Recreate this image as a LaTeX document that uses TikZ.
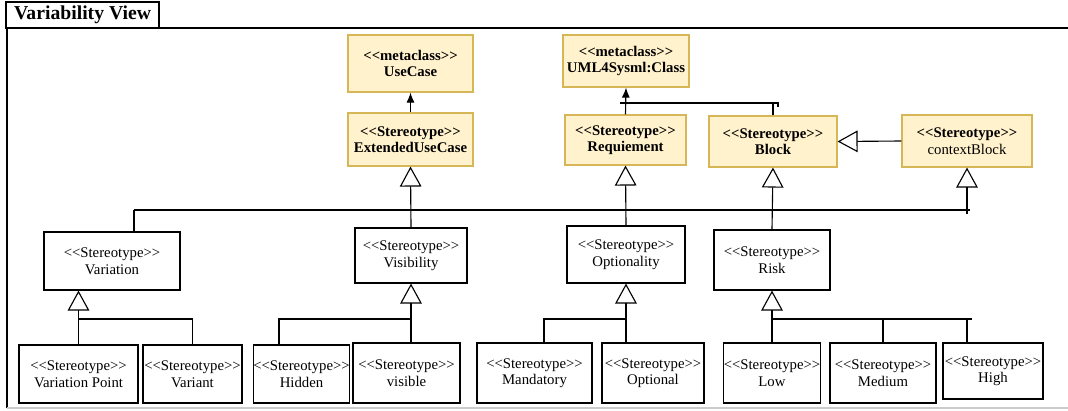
\documentclass[tikz,border=0pt]{standalone}
\usepackage{fontspec}
\setmainfont{Liberation Serif}[Ligatures=TeXOff]
\usetikzlibrary{arrows.meta}
\definecolor{metafill}{RGB}{255,242,204}
\definecolor{metaline}{RGB}{214,182,86}
\tikzset{
    >=Stealth,
    every node/.style={inner sep=0pt}
}

\begin{document}
\begin{tikzpicture}[
  x=0.025cm, y=-0.025cm,
  stereo/.style={rectangle, draw, line width=0.8pt, align=center, font=\fontsize{10.5}{11.8}\selectfont},
  meta/.style={stereo, fill=metafill, draw=metaline, font=\bfseries\fontsize{10.5}{11.8}\selectfont},
  inherit/.style={-{Triangle[open, length=0.5cm, width=0.54cm]}, line width=0.8pt},
  assoc/.style={-{Latex[length=0.25cm, width=0.2cm]}, line width=0.8pt},
  link/.style={line width=0.8pt}
]
  \useasboundingbox (0,0) rectangle (1068,410);

  % Frame and title tab
  \draw[line width=0.8pt] (1068,28) -- (7,28) -- (7,408);
  \draw[gray!40, line width=0.8pt] (7,408) -- (1068,408);
  \node[draw, line width=0.8pt, minimum width=3.825cm, minimum height=0.65cm,
        font=\bfseries\fontsize{14}{15}\selectfont] (title) at (82.5,15) {Variability View};

  % Metaclasses and base stereotypes
  \node[meta, minimum width=3.125cm, minimum height=1.425cm] (usecase)  at (410.5,63.5) {<<metaclass>>\\UseCase};
  \node[meta, minimum width=3.15cm,  minimum height=1.3cm]   (umlclass) at (626,61)     {<<metaclass>>\\UML4Sysml:Class};
  \node[meta, minimum width=3.125cm, minimum height=1.325cm] (extuc)    at (410.5,139.5) {<<Stereotype>>\\ExtendedUseCase};
  \node[meta, minimum width=3.025cm, minimum height=1.25cm]  (req)      at (625.5,140)  {<<Stereotype>>\\Requiement};
  \node[meta, minimum width=3.2cm,   minimum height=1.275cm] (block)    at (773,141.5)  {<<Stereotype>>\\Block};
  \node[meta, minimum width=3.25cm,  minimum height=1.3cm, font=\fontsize{10.5}{11.8}\selectfont] (ctxblock) at (967,141) {\textbf{<<Stereotype>>}\\contextBlock};

  % Variability stereotypes
  \node[stereo, minimum width=3.4cm,  minimum height=1.45cm]  (variation)   at (112,261)   {<<Stereotype>>\\Variation};
  \node[stereo, minimum width=2.8cm,  minimum height=1.375cm] (visibility)  at (411,255.5) {<<Stereotype>>\\Visibility};
  \node[stereo, minimum width=2.95cm, minimum height=1.425cm] (optionality) at (626,254.5) {<<Stereotype>>\\Optionality};
  \node[stereo, minimum width=2.9cm,  minimum height=1.5cm]   (risk)        at (772,260)   {<<Stereotype>>\\Risk};

  % Leaf stereotypes
  \node[stereo, minimum width=2.975cm, minimum height=1.45cm] (varpoint)  at (78.5,374)  {<<Stereotype>>\\Variation Point};
  \node[stereo, minimum width=2.475cm, minimum height=1.45cm] (variant)   at (192.5,374) {<<Stereotype>>\\Variant};
  \node[stereo, minimum width=2.325cm, minimum height=1.45cm] (hidden)    at (301.5,374) {<<Stereotype>>\\Hidden};
  \node[stereo, minimum width=2.675cm, minimum height=1.5cm]  (visible)   at (406.5,373) {<<Stereotype>>\\visible};
  \node[stereo, minimum width=2.875cm, minimum height=1.5cm]  (mandatory) at (534.5,373) {<<Stereotype>>\\Mandatory};
  \node[stereo, minimum width=2.55cm,  minimum height=1.5cm]  (optional)  at (653,373)   {<<Stereotype>>\\Optional};
  \node[stereo, minimum width=2.4cm,   minimum height=1.5cm]  (low)       at (772,373)   {<<Stereotype>>\\Low};
  \node[stereo, minimum width=2.65cm,  minimum height=1.5cm]  (medium)    at (883,373)   {<<Stereotype>>\\Medium};
  \node[stereo, minimum width=2.5cm,   minimum height=1.4cm]  (high)      at (993,371)   {<<Stereotype>>\\High};

  % Junction points
  \coordinate (clsj) at (620,103);
  \coordinate (blkj) at (778,103);
  \coordinate (busl) at (134,210);
  \coordinate (busr) at (970,210);
  \coordinate (varj) at (79,319);
  \coordinate (hidj) at (279,319);
  \coordinate (manj) at (544,319);
  \coordinate (riskj) at (972,319);
  \coordinate (highj) at (967,319);

  % Extensions of metaclasses
  \draw[assoc] (extuc.north) -- (usecase.south);
  \draw[assoc] (req.north) -- (umlclass.south);
  \draw[link] (block.north) -- (block.north |- clsj);
  \draw[link] (clsj) -- (blkj) -- ++(0,4);
  \draw[inherit] (ctxblock.west) -- (block.east);

  % Main generalization bus
  \draw[link] (busl) -- (busr);
  \draw[link] (busl) -- (busl |- variation.north);
  \draw[inherit] (visibility.north) -- (extuc.south);
  \draw[inherit] (optionality.north) -- (req.south);
  \draw[inherit] (risk.north) -- (block.south);
  \draw[inherit] ([yshift=-0.1cm]busr -| ctxblock.south) -- (ctxblock.south);

  % Variation
  \draw[inherit] (varpoint.north) -- (varpoint.north |- variation.south);
  \draw[link] (varj) -| (variant.north);

  % Visibility
  \draw[inherit] (visibility.south |- visible.north) -- (visibility.south);
  \draw[link] (hidden.north -| hidj) |- (visibility.south |- hidj);

  % Optionality
  \draw[inherit] (optionality.south |- optional.north) -- (optionality.south);
  \draw[link] (mandatory.north -| manj) |- (optionality.south |- manj);

  % Risk
  \draw[inherit] (low.north) -- (risk.south);
  \draw[link] (low.north |- riskj) -- (riskj);
  \draw[link] (medium.north) -- (medium.north |- riskj);
  \draw[link] (high.north -| highj) -- (highj);
\end{tikzpicture}
\end{document}
